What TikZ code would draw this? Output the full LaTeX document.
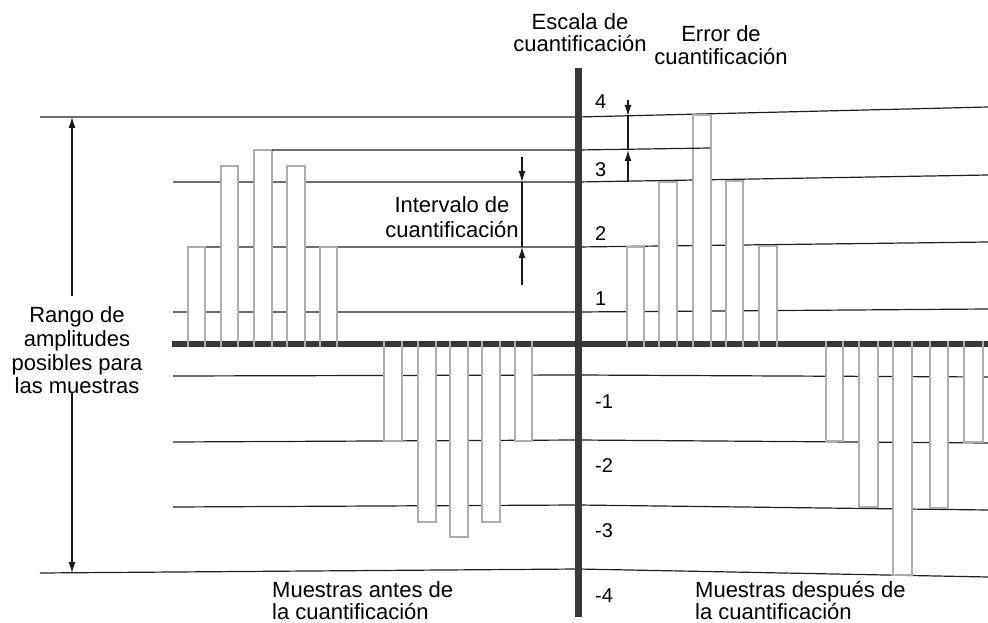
\documentclass[tikz,border=0pt]{standalone}
\usepackage{fontspec}
\setmainfont{Liberation Sans}
\usetikzlibrary{arrows.meta}
\begin{document}
\begin{tikzpicture}[x=1pt,y=-1pt,
  gridline/.style={line width=1.2pt, draw=black!88},
  bar/.style={draw=black!32, line width=2pt, fill=white},
  tickmark/.style={draw=black!32, line width=2pt},
  axis/.style={draw=black!78, line width=6pt},
  arr/.style={line width=1.2pt, draw=black!90, -{Latex[length=11pt,width=7pt]}},
  plain/.style={line width=1.2pt, draw=black!90},
  lbl/.style={font=\fontsize{22}{24}\selectfont, inner sep=0pt},
  num/.style={font=\fontsize{20}{22}\selectfont, inner sep=0pt, anchor=base west},
  ]
\useasboundingbox (0,0) rectangle (988,623);

% quantization level lines
\draw[gridline] (40,117) -- (578,117) -- (988,107);
\draw[gridline] (173,182) -- (578,182) -- (988,175);
\draw[gridline] (189,247) -- (578,247) -- (988,242);
\draw[gridline] (173,312) -- (578,312) -- (988,309);
\draw[gridline] (173,376) -- (578,375) -- (988,377);
\draw[gridline] (173,442) -- (578,440) -- (988,443);
\draw[gridline] (173,507) -- (578,505) -- (988,510);
\draw[gridline] (40,573) -- (578,569) -- (988,577);

% samples before quantization
\foreach \a/\b/\t in {188/205/247, 221/238/166, 254/272/150, 287/305/166, 320/337/247}
  \draw[bar] (\a,344) rectangle (\b,\t);
\foreach \a/\b/\t in {384/402/441, 418/436/522, 450/468/537, 482/500/522, 515/532/441}
  \draw[bar] (\a,344) rectangle (\b,\t);
% samples after quantization
\foreach \a/\b/\t in {627/644/247, 659/677/182, 693/711/115, 726/743/181, 759/777/246}
  \draw[bar] (\a,344) rectangle (\b,\t);
\foreach \a/\b/\t in {826/843/441, 859/878/507, 893/912/575, 930/948/508, 964/983/442}
  \draw[bar] (\a,344) rectangle (\b,\t);

% original value line (quantization error)
\draw[gridline] (272,150) -- (578,150) -- (710,148);

% axes
\draw[axis] (172,344) -- (988,344);
\foreach \x in {188,205,221,238,254,272,287,305,320,337,627,644,659,677,693,711,726,743,759,777}
  \draw[tickmark] (\x,337) -- (\x,347);
\foreach \x in {384,402,418,436,450,468,482,500,515,532,826,843,859,878,893,912,930,948,964,983}
  \draw[tickmark] (\x,341) -- (\x,351);
\draw[axis, line width=7pt] (578,68) -- (578,617);

% scale numbers
\node[num] (n4) at (595,109) {4};
\node[num] (n3) at (595,176) {3};
\node[num] (n2) at (595,240) {2};
\node[num] (n1) at (595,305) {1};
\node[num] (m1) at (595,408) {-1};
\node[num] (m2) at (595,472) {-2};
\node[num] (m3) at (595,537) {-3};
\node[num] (m4) at (595,602) {-4};

% labels
\node[lbl, anchor=base] (esc1) at (580,30) {Escala de};
\node[lbl, anchor=base] (esc2) at (580,52) {cuantificación};
\node[lbl, anchor=base] (err1) at (721,42) {Error de};
\node[lbl, anchor=base] (err2) at (721,65) {cuantificación};
\node[lbl, anchor=base] (int1) at (452,212) {Intervalo de};
\node[lbl, anchor=base] (int2) at (452,237) {cuantificación};
\node[lbl, anchor=base] (ran1) at (77,322) {Rango de};
\node[lbl, anchor=base] (ran2) at (77,346) {amplitudes};
\node[lbl, anchor=base] (ran3) at (77,370) {posibles para};
\node[lbl, anchor=base] (ran4) at (77,393) {las muestras};
\node[lbl, anchor=base west] (ant1) at (272,597) {Muestras antes de};
\node[lbl, anchor=base west] (ant2) at (272,619) {la cuantificación};
\node[lbl, anchor=base west] (des1) at (695,597) {Muestras después de};
\node[lbl, anchor=base west] (des2) at (695,619) {la cuantificación};

% range arrow
\coordinate (rT) at (72,117);
\coordinate (rA) at (72,296);
\coordinate (rB) at (72,392);
\coordinate (rD) at (72,573);
\draw[arr] (rA) -- (rT);
\draw[arr] (rB) -- (rD);

% interval arrow
\coordinate (iA) at (522,157);
\coordinate (i3) at (522,182);
\coordinate (i2) at (522,247);
\coordinate (iB) at (522,285);
\draw[arr] (iA) -- (i3);
\draw[plain] (i3) -- (i2);
\draw[arr] (iB) -- (i2);

% error arrow
\coordinate (eA) at (628,100);
\coordinate (e4) at (628,116);
\coordinate (e35) at (628,150);
\coordinate (e3) at (628,182);
\draw[arr] (eA) -- (e4);
\draw[plain] (e4) -- (e35);
\draw[arr] (e3) -- (e35);
\end{tikzpicture}
\end{document}
